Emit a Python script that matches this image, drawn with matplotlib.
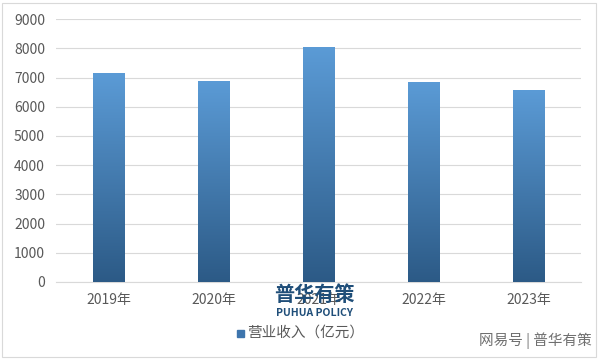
import numpy as np
import matplotlib
matplotlib.use('Agg')
import matplotlib.pyplot as plt
from matplotlib.colors import LinearSegmentedColormap
from matplotlib.patches import Rectangle

plt.rcParams['font.family'] = ['Noto Sans CJK SC', 'DejaVu Sans']

years = ['2019年', '2020年', '2021年', '2022年', '2023年']
revenue = [7150, 6890, 8040, 6850, 6575]
y_ticks = [0, 1000, 2000, 3000, 4000, 5000, 6000, 7000, 8000, 9000]

fig = plt.figure(figsize=(5.98, 3.61), dpi=100)
ax = fig.add_axes([0.094, 0.219, 0.878, 0.728])

cmap = LinearSegmentedColormap.from_list('bar', ['#2c5a86', '#5b9bd6'])
grad = np.linspace(0, 1, 256).reshape(-1, 1)

x = np.arange(len(years))
width = 0.3
bars = ax.bar(x, revenue, width=width, color='none', zorder=3)
for b in bars:
    x0, y0 = b.get_x(), b.get_y()
    w, h = b.get_width(), b.get_height()
    im = ax.imshow(grad, cmap=cmap, aspect='auto', origin='lower',
                   extent=[x0, x0 + w, y0, y0 + h], zorder=3)
    im.set_clip_path(b)

ax.set_xlim(-0.5, len(years) - 0.5)
ax.set_ylim(0, 9000)
ax.set_yticks(y_ticks)
ax.set_xticks(x)
ax.set_xticklabels(years)
ax.grid(axis='y', color='#d9d9d9', linewidth=0.8, zorder=0)
for s in ['top', 'right', 'left']:
    ax.spines[s].set_visible(False)
ax.spines['bottom'].set_color('#d9d9d9')
ax.tick_params(axis='both', length=0, colors='#595959', labelsize=10)
ax.tick_params(axis='y', pad=8)
ax.tick_params(axis='x', pad=8)

# legend
fig.patches.append(Rectangle((237 / 598, 1 - 337 / 361), 7 / 598, 7 / 361,
                             transform=fig.transFigure, color='#3e75ad'))
fig.text(247 / 598, 1 - 333 / 361, '营业收入（亿元）', fontsize=10.5, color='#595959',
         va='center', ha='left')

# watermarks (overlap the 2021 label, as in the source image)
fig.text(314 / 598, 1 - 294 / 361, '普华有策', fontsize=14.5, fontweight='bold',
         color='#1f4e79', ha='center', va='center')
fig.text(314 / 598, 1 - 313 / 361, 'PUHUA POLICY', fontsize=7.5, fontweight='bold',
         color='#1f4e79', ha='center', va='center')
fig.text(535 / 598, 1 - 341 / 361, '网易号 | 普华有策', fontsize=10.5, color='#6f6f6f',
         ha='center', va='center')

fig.patches.append(Rectangle((2 / 598, 4 / 361), 594 / 598, 354 / 361,
                             transform=fig.transFigure, fill=False,
                             edgecolor='#d9d9d9', linewidth=0.8))

fig.savefig('out.png', dpi=100)
